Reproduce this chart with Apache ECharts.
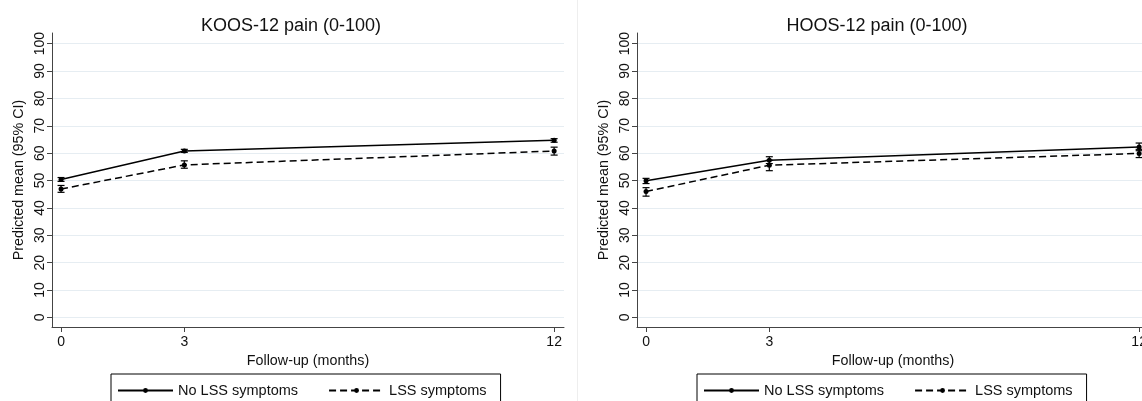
<!DOCTYPE html>
<html>
<head>
<meta charset="utf-8">
<script src="https://cdn.jsdelivr.net/npm/echarts@6/dist/echarts.min.js"></script>
<style>
html,body{margin:0;padding:0;background:#fff;}
#chart{width:1142px;height:401px;}
</style>
</head>
<body>
<div id="chart"></div>
<script>
// ---- data ----
const months = [0, 3, 12];
const yTickValues = [0, 10, 20, 30, 40, 50, 60, 70, 80, 90, 100];
const panelTitles = ['KOOS-12 pain (0-100)', 'HOOS-12 pain (0-100)'];
const seriesNames = ['No LSS symptoms', 'LSS symptoms'];

const koosNoLSS     = [50.4, 60.8, 64.7];
const koosNoLSSLow  = [49.7, 60.3, 64.0];
const koosNoLSSHigh = [51.1, 61.4, 65.3];
const koosLSS       = [46.9, 55.7, 60.8];
const koosLSSLow    = [45.7, 54.5, 59.3];
const koosLSSHigh   = [48.2, 57.2, 62.2];

const hoosNoLSS     = [49.9, 57.4, 62.3];
const hoosNoLSSLow  = [48.9, 56.2, 60.9];
const hoosNoLSSHigh = [50.8, 58.7, 63.7];
const hoosLSS       = [46.0, 55.6, 59.9];
const hoosLSSLow    = [44.3, 53.6, 58.4];
const hoosLSSHigh   = [47.4, 57.4, 61.4];

// ---- build ----
const FONT = '"Liberation Sans", Arial, Helvetica, sans-serif';
const pts = (vals) => months.map((m, i) => [m, vals[i]]);
const ci = (lo, hi) => months.map((m, i) => [m, lo[i], hi[i]]);

function renderCI(params, api) {
  const x = api.value(0);
  const lo = api.coord([x, api.value(1)]);
  const hi = api.coord([x, api.value(2)]);
  const w = 3.5;
  const st = { stroke: '#000', lineWidth: 1.2 };
  return {
    type: 'group',
    children: [
      { type: 'line', shape: { x1: lo[0], y1: lo[1], x2: hi[0], y2: hi[1] }, style: st },
      { type: 'line', shape: { x1: lo[0] - w, y1: lo[1], x2: lo[0] + w, y2: lo[1] }, style: st },
      { type: 'line', shape: { x1: hi[0] - w, y1: hi[1], x2: hi[0] + w, y2: hi[1] }, style: st }
    ]
  };
}

const grids = [
  { left: 52, top: 33, width: 512, height: 294, outerBoundsMode: 'none', containLabel: false },
  { left: 637, top: 33, width: 512, height: 294, outerBoundsMode: 'none', containLabel: false }
];

function xAxisFor(i) {
  return {
    type: 'value', gridIndex: i, min: -0.22, max: 12.24,
    name: 'Follow-up (months)', nameLocation: 'middle', nameGap: 25,
    nameTextStyle: { fontFamily: FONT, fontSize: 14.3, color: '#111' },
    axisLine: { show: true, onZero: false, lineStyle: { color: '#444', width: 1 } },
    axisTick: { show: true, length: 5, lineStyle: { color: '#444' }, customValues: months },
    axisLabel: { customValues: months, fontFamily: FONT, fontSize: 14, color: '#111', margin: 8 },
    splitLine: { show: false }
  };
}
function yAxisFor(i) {
  return {
    type: 'value', gridIndex: i, min: -3.5, max: 103.9,
    name: 'Predicted mean (95% CI)', nameLocation: 'middle', nameGap: 26,
    nameRotate: 90,
    nameTextStyle: { fontFamily: FONT, fontSize: 14.3, color: '#111' },
    axisLine: { show: true, onZero: false, lineStyle: { color: '#444', width: 1 } },
    axisTick: { show: true, length: 5, lineStyle: { color: '#444' }, customValues: yTickValues },
    axisLabel: { customValues: yTickValues, rotate: 90, fontFamily: FONT, fontSize: 14, color: '#111', margin: 5 },
    splitLine: { show: true, lineStyle: { color: '#e6edf2', width: 1 } }
  };
}

const panels = [
  { noLSS: koosNoLSS, noLo: koosNoLSSLow, noHi: koosNoLSSHigh, lss: koosLSS, lLo: koosLSSLow, lHi: koosLSSHigh },
  { noLSS: hoosNoLSS, noLo: hoosNoLSSLow, noHi: hoosNoLSSHigh, lss: hoosLSS, lLo: hoosLSSLow, lHi: hoosLSSHigh }
];

const series = [];
panels.forEach((p, i) => {
  series.push({
    type: 'line', name: seriesNames[0], xAxisIndex: i, yAxisIndex: i,
    data: pts(p.noLSS), symbol: 'circle', symbolSize: 5,
    itemStyle: { color: '#000' }, lineStyle: { color: '#000', width: 1.5, type: 'solid' },
    animation: false
  });
  series.push({
    type: 'line', name: seriesNames[1], xAxisIndex: i, yAxisIndex: i,
    data: pts(p.lss), symbol: 'circle', symbolSize: 5,
    itemStyle: { color: '#000' }, lineStyle: { color: '#000', width: 1.5, type: [7, 4] },
    animation: false
  });
  series.push({
    type: 'custom', name: 'ci-a-' + i, xAxisIndex: i, yAxisIndex: i,
    data: ci(p.noLo, p.noHi), renderItem: renderCI, encode: { x: 0, y: [1, 2] }, animation: false, z: 3
  });
  series.push({
    type: 'custom', name: 'ci-b-' + i, xAxisIndex: i, yAxisIndex: i,
    data: ci(p.lLo, p.lHi), renderItem: renderCI, encode: { x: 0, y: [1, 2] }, animation: false, z: 3
  });
});

function legendFor(left) {
  return {
    left: left, top: 374, orient: 'horizontal',
    data: seriesNames,
    itemWidth: 55, itemHeight: 6, itemTextGap: 9, itemGap: 30,
    padding: [9, 14, 12, 6],
    borderColor: '#000', borderWidth: 1, backgroundColor: '#fff',
    textStyle: { fontFamily: FONT, fontSize: 14.5, color: '#111' },
    selectedMode: false
  };
}

const option = {
  animation: false,
  backgroundColor: '#fff',
  title: [
    { text: panelTitles[0], left: 286, top: 12, textAlign: 'center',
      textStyle: { fontFamily: FONT, fontSize: 18, fontWeight: 'normal', color: '#111' } },
    { text: panelTitles[1], left: 872, top: 12, textAlign: 'center',
      textStyle: { fontFamily: FONT, fontSize: 18, fontWeight: 'normal', color: '#111' } }
  ],
  legend: [legendFor(111), legendFor(697)],
  grid: grids,
  xAxis: [xAxisFor(0), xAxisFor(1)],
  yAxis: [yAxisFor(0), yAxisFor(1)],
  series: series,
  graphic: [
    { type: 'line', shape: { x1: 577.5, y1: 0, x2: 577.5, y2: 401 }, style: { stroke: '#eeeeee', lineWidth: 1 }, silent: true }
  ]
};

const chart = echarts.init(document.getElementById('chart'), null, { renderer: 'canvas' });
chart.setOption(option);
</script>
</body>
</html>
